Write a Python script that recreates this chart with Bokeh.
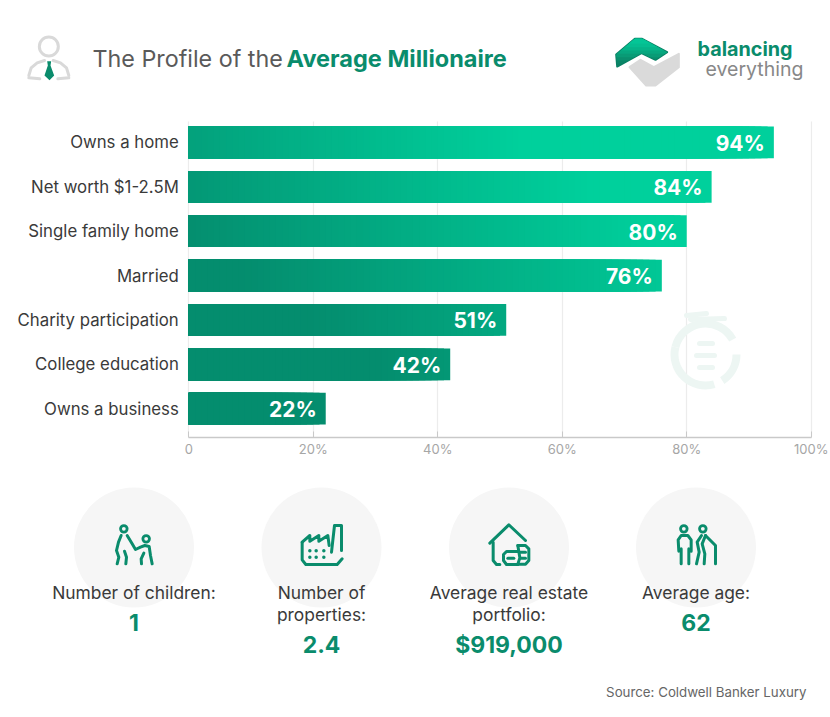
from bokeh.plotting import figure
from bokeh.models import Range1d, FixedTicker, ColumnDataSource
from bokeh.core.properties import value
from bokeh.embed import file_html
from bokeh.resources import INLINE

categories = ["Owns a home", "Net worth $1-2.5M", "Single family home", "Married",
              "Charity participation", "College education", "Owns a business"]
percentages = [94, 84, 80, 76, 51, 42, 22]
x_ticks = [0, 20, 40, 60, 80, 100]
x_tick_labels = ["0", "20%", "40%", "60%", "80%", "100%"]
stat_titles = [["Number of children:"], ["Number of", "properties:"],
               ["Average real estate", "portfolio:"], ["Average age:"]]
stat_values = ["1", "2.4", "$919,000", "62"]

FONT = "Inter"
GREEN = "#0a8c6c"
GREY = "#d9d9d9"
W, H = 830, 717
X0, PX_PER_PCT = 188.3, 6.224
Y0, PX_PER_ROW = 141.9, 44.38

def rx(px):
    return (px - X0) / PX_PER_PCT
def ry(px):
    return (px - Y0) / PX_PER_ROW

p = figure(width=W, height=H, output_backend="svg", toolbar_location=None,
           x_range=Range1d(rx(0), rx(W)), y_range=Range1d(ry(H), ry(0)),
           min_border=0, min_border_left=0, min_border_right=0, min_border_top=0, min_border_bottom=0,
           outline_line_color=None, background_fill_color="white", border_fill_color="white")
p.extra_x_ranges["px"] = Range1d(0, W)
p.extra_y_ranges["px"] = Range1d(H, 0)
PX = dict(x_range_name="px", y_range_name="px")

# axes
xa = p.xaxis[0]
xa.fixed_location = ry(436.7)
xa.ticker = FixedTicker(ticks=x_ticks)
xa.major_label_overrides = dict(zip(x_ticks, x_tick_labels))
xa.bounds = (0, 100)
xa.axis_line_color = "#c9c9c9"
xa.axis_line_width = 1.5
xa.major_tick_line_color = "#c9c9c9"
xa.major_tick_in = 6
xa.major_tick_out = 0
xa.minor_tick_line_color = None
xa.major_label_text_font = FONT
xa.major_label_text_font_size = "13px"
xa.major_label_text_color = "#a6a6a6"
xa.major_label_standoff = 4

ya = p.yaxis[0]
ya.fixed_location = 0
ya.ticker = FixedTicker(ticks=list(range(len(categories))))
ya.major_label_overrides = dict(enumerate(categories))
ya.axis_line_color = None
ya.major_tick_line_color = None
ya.minor_tick_line_color = None
ya.major_tick_in = 0
ya.major_tick_out = 0
ya.major_label_standoff = 10
ya.major_label_text_font = FONT
ya.major_label_text_font_size = "16.8px"
ya.major_label_text_color = "#3a3a3a"

p.ygrid.visible = False
p.xgrid.ticker = FixedTicker(ticks=x_ticks)
p.xgrid.grid_line_color = "#ececec"
p.xgrid.grid_line_width = 1.2
p.xgrid.cross_bounds = (ry(121), ry(436))

# watermark
WM = "#edf6f3"
p.arc(x=[705, 705], y=[354, 354], radius=[31, 31], start_angle=[0.5, -1.0], end_angle=[2.9, 0.0],
      line_color=WM, line_width=8, **PX)
p.arc(x=[705], y=[354], radius=[31], start_angle=[2.9], end_angle=[5.0], line_color=WM, line_width=8, **PX)
p.multi_line(xs=[[686, 706], [690, 724], [699, 712], [696, 714], [699, 712]],
             ys=[[315, 313], [319, 318], [343, 343], [355, 355], [367, 367]],
             line_color=WM, line_width=5, line_cap="round", **PX)

# bars: diagonal gradient per row, painted as nested bars, longest first
C0 = (4, 141, 110)
C1 = (0, 208, 156)
def shade(x_px, y_px):
    t = max(0.0, min(1.0, ((x_px - 188) + 1.5 * (436 - y_px) - 300) / 480))
    return "#%02x%02x%02x" % tuple(int(round(a + (b - a) * t)) for a, b in zip(C0, C1))

rows, rights, colors = [], [], []
for edge in range(100, 0, -1):
    for i, v in enumerate(percentages):
        if edge - 1 < v:
            rows.append(i)
            rights.append(min(edge, v))
            colors.append(shade(X0 + min(edge, v) * PX_PER_PCT, Y0 + i * PX_PER_ROW))
p.hbar(y="y", left=0, right="r", height=0.715, fill_color="c", line_color=None,
       source=ColumnDataSource(dict(y=rows, r=rights, c=colors)))

# value labels
p.text(x=percentages, y=list(range(len(percentages))), text=[f"{v}%" for v in percentages],
       text_color="white", text_font=value(FONT), text_font_style="bold", text_font_size="21px",
       text_align="right", text_baseline="middle", x_offset=-9, y_offset=1)

# stat circles and text
centers = [133.5, 321, 508.5, 695.5]
p.circle(x=centers, y=[547] * 4, radius=60, fill_color="#f6f6f6", line_color=None, **PX)
for cx, lines, val in zip(centers, stat_titles, stat_values):
    for k, line in enumerate(lines):
        p.text(x=[cx], y=[592 + 22 * k], text=[line], text_color="#3a3a3a",
               text_font=value(FONT), text_font_size="17.4px", text_align="center",
               text_baseline="middle", **PX)
    p.text(x=[cx], y=[622 + 22 * (len(lines) - 1)], text=[val], text_color=GREEN,
           text_font=value(FONT), text_font_style="bold", text_font_size="23px",
           text_align="center", text_baseline="middle", **PX)

# header
p.text(x=[92], y=[58], text=["The Profile of the"], text_color="#5a5a5a", text_font=value(FONT),
       text_font_size="23.3px", text_baseline="middle", **PX)
p.text(x=[286], y=[58], text=["Average Millionaire"], text_color=GREEN, text_font=value(FONT),
       text_font_style="bold", text_font_size="23.5px", text_baseline="middle", **PX)
p.text(x=[697], y=[48], text=["balancing"], text_color=GREEN, text_font=value(FONT),
       text_font_style="bold", text_font_size="19.8px", text_baseline="middle", **PX)
p.text(x=[705], y=[68], text=["everything"], text_color="#888888", text_font=value(FONT),
       text_font_size="19.5px", text_baseline="middle", **PX)
p.text(x=[806], y=[691], text=["Source: Coldwell Banker Luxury"], text_color="#666666",
       text_font=value(FONT), text_font_size="13.3px", text_align="right", text_baseline="middle", **PX)

# icons: shapes traced in zoomed-crop coordinates (origin, 3x)
def tr(ox, oy, pts):
    return [ox + a / 3 for a, b in pts], [oy + b / 3 for a, b in pts]

def strokes(ox, oy, paths, color=GREEN, width=3):
    xs, ys = zip(*[tr(ox, oy, path) for path in paths])
    p.multi_line(xs=list(xs), ys=list(ys), line_color=color, line_width=width,
                 line_cap="round", line_join="round", **PX)

def heads(ox, oy, pts, r=3.3, color=GREEN, width=2.8):
    xs, ys = tr(ox, oy, pts)
    p.circle(x=xs, y=ys, radius=r, fill_color=None, line_color=color, line_width=width, **PX)

# parent and child
heads(50, 480, [(220, 145), (287, 175)])
strokes(50, 480, [
    [(212, 165), (204, 185), (198, 210), (205, 230), (200, 250)],
    [(230, 165), (245, 190), (255, 207), (270, 200), (283, 195), (296, 198), (300, 225), (305, 250)],
    [(222, 212), (228, 230), (226, 250)],
    [(280, 218), (272, 235), (273, 250)],
])
# factory
strokes(50, 480, [
    [(755, 185), (755, 238), (766, 252), (860, 252), (875, 235)],
    [(755, 185), (778, 165), (778, 182), (805, 165), (805, 182), (832, 165), (836, 195)],
    [(843, 215), (852, 135), (873, 135), (873, 210)],
])
dx, dy = tr(50, 480, [(778, 211), (797, 211), (820, 211), (778, 230), (797, 230), (820, 230)])
p.scatter(x=dx, y=dy, size=3.5, marker="circle", fill_color=GREEN, line_color=None, **PX)
# house and coins
strokes(430, 480, [
    [(178, 188), (235, 133), (285, 180)],
    [(188, 185), (188, 240), (198, 252), (208, 252)],
    [(262, 252), (228, 252), (219, 240), (219, 222), (228, 213), (262, 213)],
    [(262, 195), (285, 195), (295, 205), (295, 240), (285, 251), (262, 251)],
    [(262, 195), (268, 232), (262, 251)],
    [(232, 233), (250, 233)], [(270, 215), (285, 215)], [(270, 233), (285, 233)],
])
# couple
heads(430, 480, [(760, 145), (817, 145)])
strokes(430, 480, [
    [(745, 212), (743, 178), (752, 165), (772, 165), (782, 178), (782, 212)],
    [(752, 205), (752, 250)], [(775, 205), (775, 250)],
    [(813, 165), (800, 185), (806, 215), (798, 250)],
    [(825, 165), (815, 190), (823, 220), (821, 250)],
    [(825, 165), (855, 195), (855, 250)],
])
# header person
heads(20, 30, [(85, 48)], r=9.5, color=GREY, width=3)
strokes(20, 30, [
    [(25, 135), (32, 112), (50, 97), (72, 90)],
    [(98, 90), (120, 97), (138, 112), (145, 135)],
    [(25, 142), (58, 145)],
    [(112, 145), (145, 142)],
], color=GREY, width=3)
tx, ty = tr(20, 30, [(80, 92), (92, 92), (90, 105), (101, 135), (87, 149), (72, 135), (82, 105)])
p.patch(x=tx, y=ty, fill_color=GREEN, line_color=None, **PX)

# logo
def clip_below(pts, ymax):
    out = []
    for (a, b), (c, d) in zip(pts, pts[1:] + pts[:1]):
        if b <= ymax:
            out.append((a, b))
        if (b <= ymax) != (d <= ymax):
            f = (ymax - b) / (d - b)
            out.append((a + (c - a) * f, ymax))
    return out

gx, gy = tr(605, 30, [(72, 110), (105, 88), (145, 110), (220, 70), (220, 110), (150, 165), (122, 165)])
p.patch(x=gx, y=gy, fill_color="#dadada", line_color="#dadada", line_width=2, line_join="round", **PX)
logo_green = [(32, 72), (88, 25), (110, 25), (185, 65), (150, 88), (108, 68), (35, 108)]
lx, ly = tr(605, 30, logo_green)
p.patch(x=lx, y=ly, fill_color="#0a8064", line_color="#0a8064", line_width=2, line_join="round", **PX)
steps = [(100, "#0a8567"), (90, "#0a8f6e"), (80, "#099b76"), (70, "#07a77f"), (60, "#06b388"), (50, "#05bd90"), (40, "#04c596")]
for level, col in steps:
    cx_, cy_ = tr(605, 30, clip_below(logo_green, level))
    p.patch(x=cx_, y=cy_, fill_color=col, line_color=None, **PX)

open("out.html", "w").write(file_html(p, INLINE))
